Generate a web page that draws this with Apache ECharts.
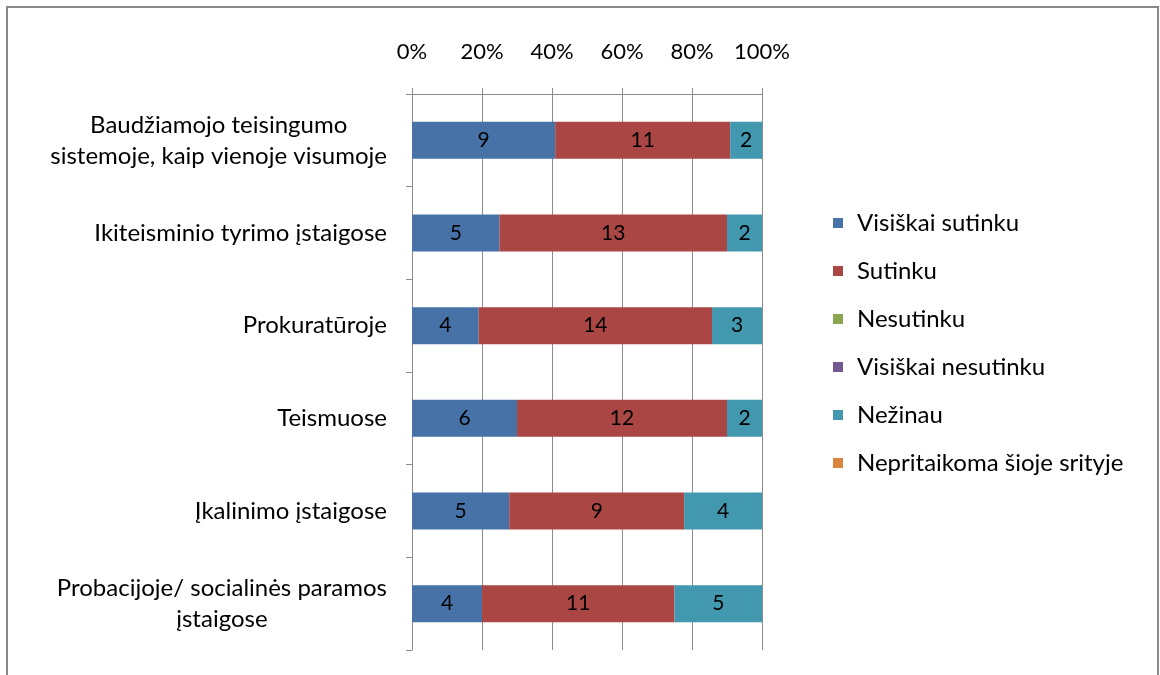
<!DOCTYPE html>
<html>
<head>
<meta charset="utf-8">
<script src="https://cdn.jsdelivr.net/npm/echarts@6/dist/echarts.min.js"></script>
<style>
  html, body { margin: 0; padding: 0; background: #fff; }
  #chart { width: 1160px; height: 675px; }
</style>
</head>
<body>
<div id="chart"></div>
<script>
// kategorijos (iš viršaus į apačią)
const categories = [
  'Baudžiamojo teisingumo\nsistemoje, kaip vienoje visumoje',
  'Ikiteisminio tyrimo įstaigose',
  'Prokuratūroje',
  'Teismuose',
  'Įkalinimo įstaigose',
  'Probacijoje/ socialinės paramos\nįstaigose'
];

// atsakymų skaičiai
const visiskaiSutinku = [9, 5, 4, 6, 5, 4];
const sutinku = [11, 13, 14, 12, 9, 11];
const nesutinku = [0, 0, 0, 0, 0, 0];
const visiskaiNesutinku = [0, 0, 0, 0, 0, 0];
const nezinau = [2, 2, 3, 2, 4, 5];
const nepritaikoma = [0, 0, 0, 0, 0, 0];

const seriesNames = ['Visiškai sutinku', 'Sutinku', 'Nesutinku', 'Visiškai nesutinku', 'Nežinau', 'Nepritaikoma šioje srityje'];
const seriesCounts = [visiskaiSutinku, sutinku, nesutinku, visiskaiNesutinku, nezinau, nepritaikoma];
const colors = ['#4672A8', '#AA4644', '#89A54E', '#71588F', '#4198AF', '#DB843D'];

const FONT = 'Lato';

// sumos kiekvienai kategorijai, kad gautume 100% stulpelius
const totals = categories.map((c, i) => seriesCounts.reduce((s, arr) => s + arr[i], 0));

const series = seriesNames.map((name, k) => ({
  name,
  type: 'bar',
  stack: 'total',
  barWidth: '40%',
  itemStyle: { color: colors[k] },
  label: {
    show: true,
    position: 'inside',
    color: '#000',
    fontFamily: FONT,
    fontSize: 21,
    formatter: p => (seriesCounts[k][p.dataIndex] ? String(seriesCounts[k][p.dataIndex]) : '')
  },
  data: seriesCounts[k].map((v, i) => v / totals[i] * 100)
}));

const myChart = echarts.init(document.getElementById('chart'));
myChart.setOption({
  animation: false,
  textStyle: { fontFamily: FONT },
  graphic: [{
    type: 'rect',
    shape: { x: 7, y: 7, width: 1151, height: 700 },
    style: { fill: 'none', stroke: '#888', lineWidth: 2 },
    silent: true
  }],
  legend: {
    orient: 'vertical',
    left: 833,
    top: 211,
    padding: 0,
    icon: 'rect',
    itemWidth: 10,
    itemHeight: 10,
    itemGap: 24,
    textStyle: { fontFamily: FONT, fontSize: 24, color: '#000', padding: [0, 0, 0, 9] },
    data: seriesNames
  },
  grid: { left: 412, right: 398, top: 94, bottom: 25 },
  xAxis: {
    type: 'value',
    position: 'top',
    min: 0,
    max: 100,
    interval: 20,
    axisLine: { show: true, lineStyle: { color: '#8C8C8C' } },
    axisTick: { show: true, length: 6, lineStyle: { color: '#8C8C8C' } },
    splitLine: { show: true, lineStyle: { color: '#8C8C8C', width: 1 } },
    axisLabel: {
      formatter: '{value}%',
      color: '#000',
      fontFamily: FONT,
      fontSize: 22,
      margin: 31
    }
  },
  yAxis: {
    type: 'category',
    inverse: true,
    data: categories,
    axisLine: { show: true, lineStyle: { color: '#8C8C8C' } },
    axisTick: { show: true, length: 6, alignWithLabel: false, lineStyle: { color: '#8C8C8C' } },
    axisLabel: {
      color: '#000',
      fontFamily: FONT,
      fontSize: 24,
      margin: 25,
      lineHeight: 31,
      formatter: v => v.split('\n').map(l => '{c|' + l + '}').join('\n'),
      rich: { c: { align: 'center', fontFamily: FONT, fontSize: 24, color: '#000', lineHeight: 31 } }
    }
  },
  series
});
</script>
</body>
</html>
